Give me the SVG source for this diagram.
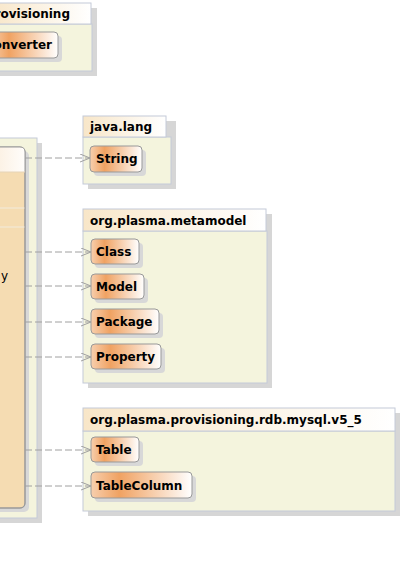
<svg xmlns="http://www.w3.org/2000/svg" width="403" height="562" viewBox="0 0 403 562">
<defs>
<linearGradient id="cls" x1="0" y1="0" x2="1" y2="0">
<stop offset="0" stop-color="#f7cfae"/>
<stop offset="0.28" stop-color="#f0a262"/>
<stop offset="1" stop-color="#ffffff"/>
</linearGradient>
<linearGradient id="hdr" x1="0" y1="0" x2="1" y2="0">
<stop offset="0" stop-color="#f8e6c8"/>
<stop offset="1" stop-color="#ffffff"/>
</linearGradient>
<linearGradient id="chdr" x1="0" y1="0" x2="1" y2="0">
<stop offset="0" stop-color="#fbeedd"/>
<stop offset="1" stop-color="#fffdfb"/>
</linearGradient>
<marker id="arr" markerUnits="userSpaceOnUse" markerWidth="12" markerHeight="10" refX="10" refY="4" orient="auto">
<path d="M0,0 L10,4 L0,8" fill="none" stroke="#a0a0a0" stroke-width="1"/>
</marker>
</defs>
<style>
.psh{fill:#d6d6d6}
.pbody{fill:#f4f4dd;stroke:#c4cad8;stroke-width:1}
.phdr{fill:url(#hdr);stroke:#c4cad8;stroke-width:1}
.csh{fill:#d8d8d8}
.cls{fill:url(#cls);stroke:#999999;stroke-width:1}
.t{font-family:"DejaVu Sans",Verdana,sans-serif;font-weight:bold;font-size:12px;fill:#000}
.tn{font-family:"DejaVu Sans",Verdana,sans-serif;font-size:12px;fill:#000}
.con{fill:none;stroke:#a0a0a0;stroke-width:1;stroke-dasharray:7,3}
</style>
<rect width="403" height="562" fill="#ffffff"/>

<g id="pkg-provisioning">
<rect class="psh" x="-5" y="8" width="102" height="68"/>
<rect class="pbody" x="-10" y="24" width="102" height="47"/>
<rect class="phdr" x="-10" y="3" width="101" height="21"/>
<text class="t" x="70" y="18" text-anchor="end">provisioning</text>
<g id="node-converter">
<rect class="csh" x="-6" y="36" width="68" height="26" rx="4"/>
<rect class="cls" x="-10" y="32" width="68" height="26" rx="4"/>
<text class="t" x="52" y="49" text-anchor="end">Converter</text>
</g>
</g>

<g id="pkg-left">
<rect class="psh" x="-5" y="143" width="47" height="380"/>
<rect class="pbody" x="-10" y="138" width="47" height="380"/>
<g id="node-left-class">
<rect class="csh" x="-6" y="151" width="35" height="361" rx="5"/>
<rect x="-10" y="147" width="35" height="361" rx="5" fill="#f5dcb2" stroke="#999999"/>
<path d="M-10,172 L-10,152 Q-10,147 -5,147 L20,147 Q25,147 25,152 L25,172 Z" fill="url(#chdr)"/>
<path d="M-10,147 L20,147 Q25,147 25,152 L25,503 Q25,508 20,508 L-10,508" fill="none" stroke="#999999"/>
<line x1="-10" y1="172" x2="25" y2="172" stroke="#e6d4b8"/>
<line x1="-10" y1="208" x2="24.5" y2="208" stroke="#f2ebdc"/>
<line x1="-10" y1="227" x2="24.5" y2="227" stroke="#f2ebdc"/>
<text class="tn" x="8" y="280" text-anchor="end">y</text>
</g>
</g>

<g id="pkg-java-lang">
<rect class="psh" x="88" y="121" width="88" height="68"/>
<rect class="pbody" x="83" y="137" width="88" height="47"/>
<rect class="phdr" x="83" y="116" width="83" height="21"/>
<text class="t" x="90" y="131">java.lang</text>
<g id="node-string">
<rect class="csh" x="94" y="150" width="52" height="26" rx="4"/>
<rect class="cls" x="90" y="146" width="52" height="26" rx="4"/>
<text class="t" x="96" y="163">String</text>
</g>
</g>

<g id="pkg-metamodel">
<rect class="psh" x="88" y="214" width="184" height="174"/>
<rect class="pbody" x="83" y="231" width="184" height="152"/>
<rect class="phdr" x="83" y="209" width="183" height="22"/>
<text class="t" x="90" y="225">org.plasma.metamodel</text>
<g id="node-class">
<rect class="csh" x="95" y="243" width="48" height="25" rx="4"/>
<rect class="cls" x="91" y="239" width="48" height="25" rx="4"/>
<text class="t" x="96" y="256">Class</text>
</g>
<g id="node-model">
<rect class="csh" x="95" y="278" width="53" height="25" rx="4"/>
<rect class="cls" x="91" y="274" width="53" height="25" rx="4"/>
<text class="t" x="96" y="291">Model</text>
</g>
<g id="node-package">
<rect class="csh" x="95" y="313" width="68" height="25" rx="4"/>
<rect class="cls" x="91" y="309" width="68" height="25" rx="4"/>
<text class="t" x="96" y="326">Package</text>
</g>
<g id="node-property">
<rect class="csh" x="95" y="348" width="70" height="25" rx="4"/>
<rect class="cls" x="91" y="344" width="70" height="25" rx="4"/>
<text class="t" x="96" y="361">Property</text>
</g>
</g>

<g id="pkg-mysql">
<rect class="psh" x="88" y="413" width="312" height="103"/>
<rect class="pbody" x="83" y="431" width="312" height="80"/>
<rect class="phdr" x="83" y="408" width="312" height="23"/>
<text class="t" x="90" y="424">org.plasma.provisioning.rdb.mysql.v5_5</text>
<g id="node-table">
<rect class="csh" x="95" y="441" width="48" height="25" rx="4"/>
<rect class="cls" x="91" y="437" width="48" height="25" rx="4"/>
<text class="t" x="96" y="454">Table</text>
</g>
<g id="node-tablecolumn">
<rect class="csh" x="95" y="476" width="101" height="26" rx="4"/>
<rect class="cls" x="91" y="472" width="101" height="26" rx="4"/>
<text class="t" x="96" y="490">TableColumn</text>
</g>
</g>

<g id="connectors">
<line class="con" x1="25" y1="158" x2="90" y2="158" marker-end="url(#arr)"/>
<line class="con" x1="25" y1="252" x2="91" y2="252" marker-end="url(#arr)"/>
<line class="con" x1="25" y1="286" x2="91" y2="286" marker-end="url(#arr)"/>
<line class="con" x1="25" y1="322" x2="91" y2="322" marker-end="url(#arr)"/>
<line class="con" x1="25" y1="357" x2="91" y2="357" marker-end="url(#arr)"/>
<line class="con" x1="25" y1="450" x2="91" y2="450" marker-end="url(#arr)"/>
<line class="con" x1="25" y1="486" x2="91" y2="486" marker-end="url(#arr)"/>
</g>
</svg>
